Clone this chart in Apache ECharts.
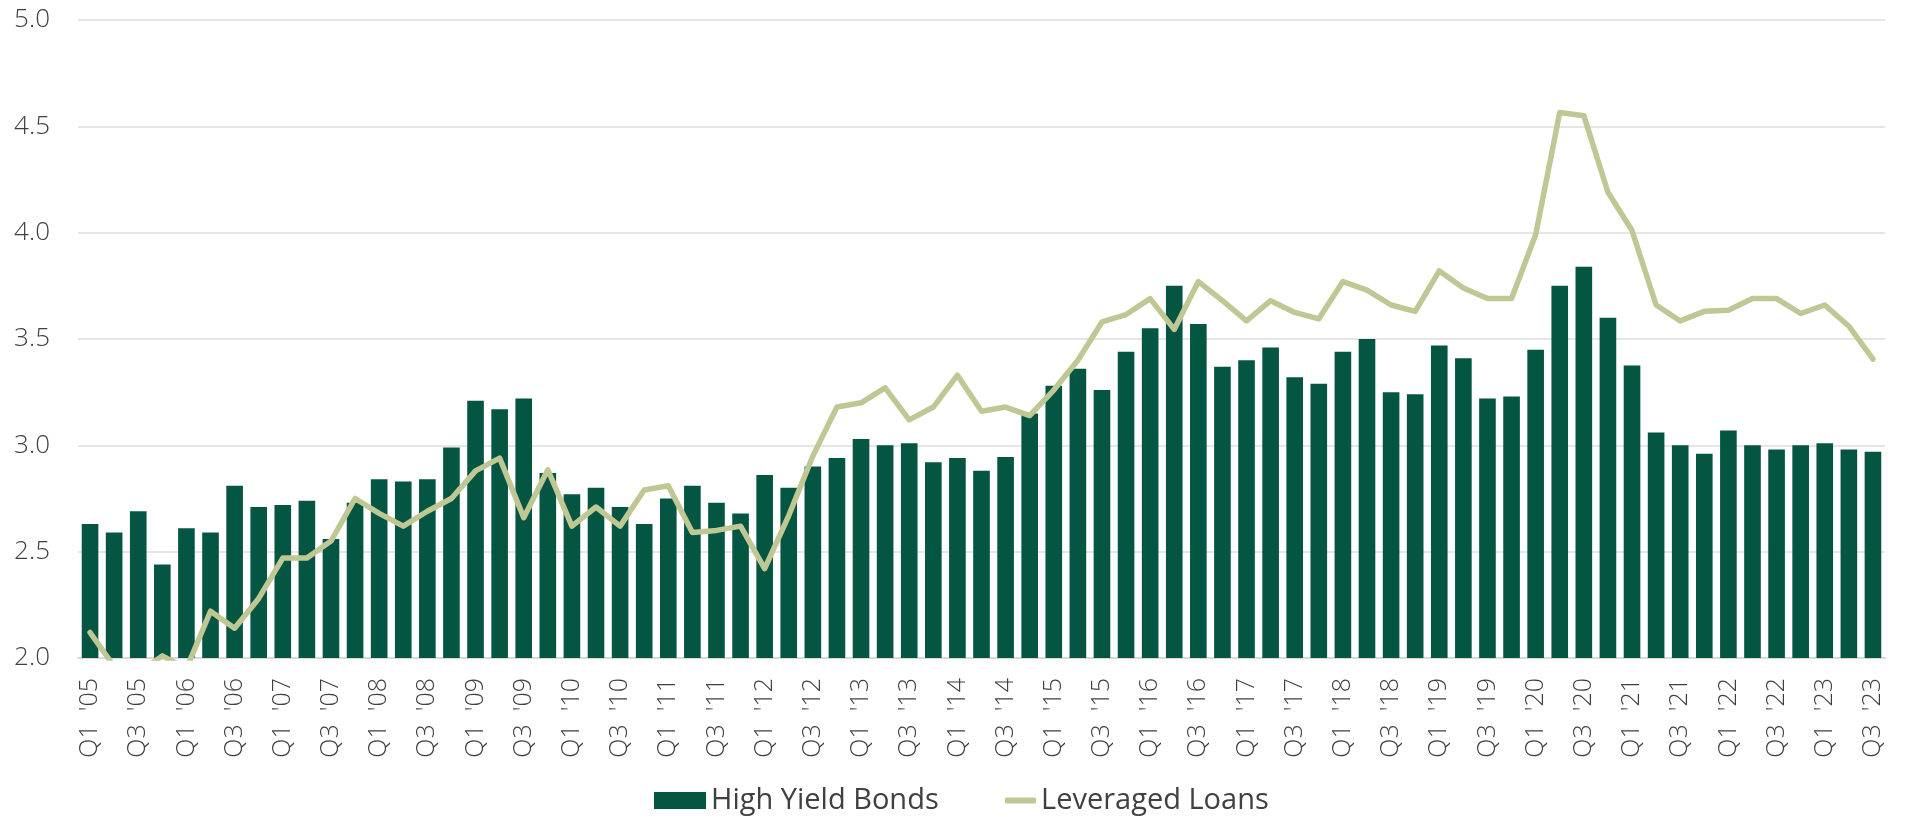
<!DOCTYPE html>
<html>
<head>
<meta charset="utf-8">
<script src="https://cdn.jsdelivr.net/npm/echarts/dist/echarts.min.js"></script>
<style>
  html, body { margin: 0; padding: 0; background: #fff; }
  #chart { width: 1906px; height: 820px; }
</style>
</head>
<body>
<div id="chart"></div>
<script>
const quarters = [
  "Q1 '05", "Q2 '05", "Q3 '05", "Q4 '05", "Q1 '06", "Q2 '06", "Q3 '06", "Q4 '06",
  "Q1 '07", "Q2 '07", "Q3 '07", "Q4 '07", "Q1 '08", "Q2 '08", "Q3 '08", "Q4 '08",
  "Q1 '09", "Q2 '09", "Q3 '09", "Q4 '09", "Q1 '10", "Q2 '10", "Q3 '10", "Q4 '10",
  "Q1 '11", "Q2 '11", "Q3 '11", "Q4 '11", "Q1 '12", "Q2 '12", "Q3 '12", "Q4 '12",
  "Q1 '13", "Q2 '13", "Q3 '13", "Q4 '13", "Q1 '14", "Q2 '14", "Q3 '14", "Q4 '14",
  "Q1 '15", "Q2 '15", "Q3 '15", "Q4 '15", "Q1 '16", "Q2 '16", "Q3 '16", "Q4 '16",
  "Q1 '17", "Q2 '17", "Q3 '17", "Q4 '17", "Q1 '18", "Q2 '18", "Q3 '18", "Q4 '18",
  "Q1 '19", "Q2 '19", "Q3 '19", "Q4 '19", "Q1 '20", "Q2 '20", "Q3 '20", "Q4 '20",
  "Q1 '21", "Q2 '21", "Q3 '21", "Q4 '21", "Q1 '22", "Q2 '22", "Q3 '22", "Q4 '22",
  "Q1 '23", "Q2 '23", "Q3 '23"
];

// High Yield Bonds (bars)
const highYield = [
  2.63, 2.59, 2.69, 2.44, 2.61, 2.59, 2.81, 2.71, 2.72, 2.74,
  2.56, 2.73, 2.84, 2.83, 2.84, 2.99, 3.21, 3.17, 3.22, 2.87,
  2.77, 2.80, 2.71, 2.63, 2.75, 2.81, 2.73, 2.68, 2.86, 2.80,
  2.90, 2.94, 3.03, 3.00, 3.01, 2.92, 2.94, 2.88, 2.945, 3.15,
  3.28, 3.36, 3.26, 3.44, 3.55, 3.75, 3.57, 3.37, 3.40, 3.46,
  3.32, 3.29, 3.44, 3.50, 3.25, 3.24, 3.47, 3.41, 3.22, 3.23,
  3.45, 3.75, 3.84, 3.60, 3.375, 3.06, 3.00, 2.96, 3.07, 3.00,
  2.98, 3.00, 3.01, 2.98, 2.97
];

// Leveraged Loans (line)
const levLoans = [
  2.12, 1.96, 1.93, 2.01, 1.95, 2.22, 2.14, 2.28, 2.47, 2.47,
  2.55, 2.75, 2.68, 2.62, 2.69, 2.75, 2.88, 2.94, 2.66, 2.885,
  2.62, 2.71, 2.62, 2.79, 2.81, 2.59, 2.60, 2.62, 2.42, 2.67,
  2.95, 3.18, 3.20, 3.27, 3.12, 3.18, 3.33, 3.16, 3.18, 3.14,
  3.26, 3.40, 3.58, 3.615, 3.69, 3.545, 3.77, 3.68, 3.585, 3.68,
  3.625, 3.595, 3.77, 3.73, 3.66, 3.63, 3.82, 3.74, 3.69, 3.69,
  3.99, 4.565, 4.55, 4.19, 4.01, 3.66, 3.585, 3.63, 3.635, 3.69,
  3.69, 3.62, 3.66, 3.56, 3.405
];

const font = "'Open Sans', sans-serif";
const textColor = "#404040";
const barColor = "#045642";
const lineColor = "#bfc894";

const chart = echarts.init(document.getElementById("chart"));
chart.setOption({
  animation: false,
  grid: { left: 78, right: 21, top: 20, bottom: 162 },
  legend: [
    {
      data: [{ name: "High Yield Bonds", icon: "rect" }],
      left: 654,
      top: 786,
      padding: 0,
      itemWidth: 52,
      itemHeight: 17,
      textStyle: { fontFamily: font, fontSize: 29, color: textColor }
    },
    {
      data: [{ name: "Leveraged Loans", icon: "roundRect", itemStyle: { color: lineColor } }],
      left: 1005,
      top: 786,
      padding: 0,
      itemWidth: 31,
      itemHeight: 6,
      textStyle: { fontFamily: font, fontSize: 29, color: textColor }
    }
  ],
  xAxis: {
    type: "category",
    data: quarters,
    axisTick: { show: false },
    axisLine: { lineStyle: { color: "#d9d9d9", width: 2 } },
    axisLabel: {
      rotate: 90,
      interval: 1,
      margin: 20,
      fontFamily: font,
      fontWeight: 300,
      fontSize: 25,
      color: textColor,
      formatter: v => v.replace(" ", "  ")
    }
  },
  yAxis: {
    type: "value",
    min: 2,
    max: 5,
    interval: 0.5,
    axisLine: { show: false },
    axisTick: { show: false },
    splitLine: { lineStyle: { color: "#e6e6e6", width: 2 } },
    axisLabel: {
      margin: 28,
      fontFamily: font,
      fontWeight: 300,
      fontSize: 26,
      color: textColor,
      formatter: v => v.toFixed(1)
    }
  },
  series: [
    {
      name: "High Yield Bonds",
      type: "bar",
      data: highYield,
      barCategoryGap: "31%",
      itemStyle: { color: barColor }
    },
    {
      name: "Leveraged Loans",
      type: "line",
      data: levLoans,
      showSymbol: false,
      symbol: "none",
      lineStyle: { color: lineColor, width: 5.5, cap: "round", join: "round" },
      itemStyle: { color: lineColor },
      z: 3
    }
  ]
});
</script>
</body>
</html>
